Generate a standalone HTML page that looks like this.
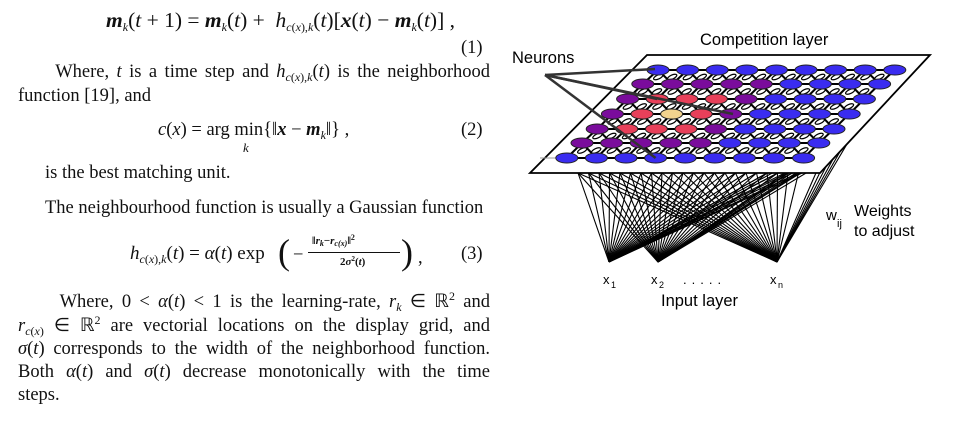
<!DOCTYPE html>
<html><head><meta charset="utf-8">
<style>
body{margin:0;width:957px;height:434px;background:#fff;overflow:hidden;position:relative;font-family:"Liberation Serif",serif;color:#111}
.t{position:absolute;font-size:18.5px;white-space:nowrap;line-height:20px}
.j{position:absolute;left:18px;width:472px;font-size:18.5px;line-height:20px;height:20px;text-align:justify;text-align-last:justify;white-space:nowrap}
i{font-style:italic}
b{font-style:italic;font-weight:bold}
sub{font-size:12px;vertical-align:-4px;line-height:0}
sup{font-size:12px;vertical-align:7px;line-height:0}
</style></head><body>
<div class="t" style="left:106px;top:10px;font-size:21.5px"><b>m</b><sub><i>k</i></sub>(<i>t</i> + 1) = <b>m</b><sub><i>k</i></sub>(<i>t</i>) + &nbsp;<i>h</i><sub><i>c</i>(<i>x</i>),<i>k</i></sub>(<i>t</i>)[<b>x</b>(<i>t</i>) − <b>m</b><sub><i>k</i></sub>(<i>t</i>)] ,</div>
<div class="t" style="left:461px;top:38px">(1)</div>
<div class="j" style="top:62px">&nbsp;&nbsp;&nbsp;&nbsp;&nbsp;Where, <i>t</i> is a time step and <i>h</i><sub><i>c</i>(<i>x</i>),<i>k</i></sub>(<i>t</i>) is the neighborhood</div>
<div class="t" style="left:18px;top:86px">function [19], and</div>
<div class="t" style="left:158px;top:120px"><i>c</i>(<i>x</i>) = arg min{‖<b>x</b> − <b>m</b><sub><i>k</i></sub>‖} ,</div>
<div class="t" style="left:243px;top:138px;font-size:13px"><i>k</i></div>
<div class="t" style="left:461px;top:120px">(2)</div>
<div class="t" style="left:45px;top:163px">is the best matching unit.</div>
<div class="t" style="left:45px;top:198px">The neighbourhood function is usually a Gaussian function</div>
<div class="t" style="left:130px;top:244px;font-size:19px"><i>h</i><sub><i>c</i>(<i>x</i>),<i>k</i></sub>(<i>t</i>) = <i>α</i>(<i>t</i>) exp</div>
<div class="t" style="left:278px;top:230px;font-size:36px;line-height:44px">(</div>
<div class="t" style="left:293px;top:245px">−</div>
<div class="t" style="left:312px;top:235px;font-size:11px;line-height:12px;font-weight:bold">‖<i>r<sub style="font-size:8px;vertical-align:-2px">k</sub></i>−<i>r<sub style="font-size:8px;vertical-align:-2px">c(x)</sub></i>‖<sup style="font-size:8px;vertical-align:4px">2</sup></div>
<div style="position:absolute;left:308px;top:252px;width:92px;border-top:1px solid #111"></div>
<div class="t" style="left:340px;top:256px;font-size:11px;line-height:12px;font-weight:bold">2<i>σ</i><sup style="font-size:7px;vertical-align:4px">2</sup>(<i>t</i>)</div>
<div class="t" style="left:401px;top:230px;font-size:36px;line-height:44px">)</div>
<div class="t" style="left:418px;top:248px">,</div>
<div class="t" style="left:461px;top:244px">(3)</div>
<div class="j" style="top:292px">&nbsp;&nbsp;&nbsp;&nbsp;&nbsp;Where, 0 &lt; <i>α</i>(<i>t</i>) &lt; 1 is the learning-rate, <i>r<sub>k</sub></i> ∈ ℝ<sup>2</sup> and</div>
<div class="j" style="top:316px"><i>r</i><sub><i>c</i>(<i>x</i>)</sub> ∈ ℝ<sup>2</sup> are vectorial locations on the display grid, and</div>
<div class="j" style="top:339px"><i>σ</i>(<i>t</i>) corresponds to the width of the neighborhood function.</div>
<div class="j" style="top:362px">Both <i>α</i>(<i>t</i>) and <i>σ</i>(<i>t</i>) decrease monotonically with the time</div>
<div class="t" style="left:18px;top:385px">steps.</div>

<svg id="d" width="957" height="434" style="position:absolute;left:0;top:0" xmlns="http://www.w3.org/2000/svg">
<g id="wires" stroke="#000" stroke-width="1.1"></g>
<polygon points="647,55 930,55 820,173 530,173" fill="#fff" stroke="#000" stroke-width="1.8"/>
<g id="lat" stroke="#000" stroke-width="2"></g>
<g id="nodes" stroke="#222" stroke-width="1"></g>
<g id="ptr" stroke="#333" stroke-width="2.5" fill="none"></g>
<text x="700" y="45" font-family="Liberation Sans" font-size="16.5">Competition layer</text>
<text x="512" y="63" font-family="Liberation Sans" font-size="16.5">Neurons</text>
<text x="826" y="220" font-family="Liberation Sans" font-size="15">w</text>
<text x="837" y="227" font-family="Liberation Sans" font-size="11">ij</text>
<text x="854" y="216" font-family="Liberation Sans" font-size="16">Weights</text>
<text x="854" y="236" font-family="Liberation Sans" font-size="16">to adjust</text>
<text x="603" y="284" font-family="Liberation Sans" font-size="13">x</text><text x="611" y="288" font-family="Liberation Sans" font-size="9">1</text>
<text x="651" y="284" font-family="Liberation Sans" font-size="13">x</text><text x="659" y="288" font-family="Liberation Sans" font-size="9">2</text>
<text x="683" y="284" font-family="Liberation Sans" font-size="13" letter-spacing="5">.....</text>
<text x="770" y="284" font-family="Liberation Sans" font-size="13">x</text><text x="778" y="288" font-family="Liberation Sans" font-size="9">n</text>
<text x="661" y="306" font-family="Liberation Sans" font-size="16.5">Input layer</text>
</svg>
<script>
var NS="http://www.w3.org/2000/svg";
function el(p,t,a){var e=document.createElementNS(NS,t);for(var k in a)e.setAttribute(k,a[k]);document.getElementById(p).appendChild(e);return e;}
var rowsY=[70,84,99,114,129,143,158];
function X(r,c){return 658-15.2*r+29.6*c;}
var B="#3a2cf0",P="#7a0c9c",R="#e8405a",Y="#f2d38e";
var col=[
[B,B,B,B,B,B,B,B,B],
[P,P,P,P,P,B,B,B,B],
[P,R,R,R,P,B,B,B,B],
[P,R,Y,R,P,B,B,B,B],
[P,R,R,R,P,B,B,B,B],
[P,P,P,P,P,B,B,B,B],
[B,B,B,B,B,B,B,B,B]];
var ins=[[609,262],[658,262],[777,262]];
ins.forEach(function(p,i){
 for(var k=0;k<22;k++){var tx=578+k*10.5;el("wires","line",{x1:p[0],y1:p[1],x2:tx,y2:173});}
 for(var k=0;k<6;k++){var ty=165-k*9;var tx=820+(173-ty)*0.93;el("wires","line",{x1:p[0],y1:p[1],x2:tx-8,y2:ty});}
});
for(var r=0;r<7;r++)for(var c=0;c<9;c++){
 var x=X(r,c),y=rowsY[r];
 if(c<8)el("lat","line",{x1:x,y1:y,x2:X(r,c+1),y2:y});
 if(r<6){el("lat","line",{x1:x,y1:y,x2:X(r+1,c),y2:rowsY[r+1]});
  if(c<8)el("lat","line",{x1:x,y1:y,x2:X(r+1,c+1),y2:rowsY[r+1]});}
 if(r<6&&c<8){var mx=(x+X(r+1,c+1))/2,my=(y+rowsY[r+1])/2;
  el("lat","ellipse",{cx:mx-7,cy:my,rx:5,ry:2,fill:"#fff","stroke-width":1.2,transform:"rotate(-25 "+(mx-7)+" "+my+")"});
  el("lat","ellipse",{cx:mx+7,cy:my,rx:5,ry:2,fill:"#fff","stroke-width":1.2,transform:"rotate(-25 "+(mx+7)+" "+my+")"});}
}
el("lat","line",{x1:540,y1:158,x2:X(6,0),y2:158,"stroke-width":1,stroke:"#999"});
for(var r=0;r<7;r++)for(var c=0;c<9;c++)el("nodes","ellipse",{cx:X(r,c),cy:rowsY[r],rx:11,ry:5,fill:col[r][c]});
[[655,69],[X(2,1),99],[733,114],[X(6,3),158]].forEach(function(p){el("ptr","line",{x1:545,y1:75,x2:p[0],y2:p[1]});});
</script>
</body></html>
